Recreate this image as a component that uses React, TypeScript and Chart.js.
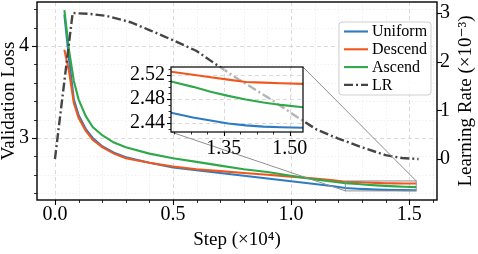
import React, { useEffect, useRef } from "react";
import { Chart, registerables } from "chart.js";
Chart.register(...registerables);

// ---- data (x in units of 1e4 steps) ----
const STEPS = [0.04, 0.06, 0.08, 0.10, 0.13, 0.16, 0.20, 0.25, 0.30, 0.40, 0.50, 0.60, 0.70, 0.80, 0.90, 1.00, 1.10, 1.18, 1.23, 1.28, 1.32, 1.36, 1.40, 1.44, 1.48, 1.53];
const UNIFORM = [4.34, 3.85, 3.42, 3.25, 3.10, 3.00, 2.91, 2.84, 2.79, 2.73, 2.68, 2.65, 2.62, 2.59, 2.56, 2.53, 2.50, 2.475, 2.457, 2.449, 2.444, 2.439, 2.436, 2.434, 2.433, 2.432];
const DESCEND = [3.96, 3.72, 3.38, 3.22, 3.08, 2.98, 2.90, 2.83, 2.78, 2.73, 2.69, 2.66, 2.64, 2.62, 2.60, 2.58, 2.56, 2.54, 2.525, 2.520, 2.516, 2.512, 2.508, 2.507, 2.506, 2.505];
const ASCEND = [4.39, 3.95, 3.62, 3.42, 3.24, 3.12, 3.03, 2.95, 2.90, 2.83, 2.78, 2.74, 2.70, 2.66, 2.63, 2.59, 2.55, 2.525, 2.509, 2.500, 2.492, 2.485, 2.479, 2.474, 2.470, 2.466];
const LR_STEPS = [0.0, 0.075, 0.15, 0.22, 0.32, 0.40, 0.50, 0.60, 0.68, 0.78, 0.92, 1.03, 1.11, 1.20, 1.30, 1.40, 1.47, 1.54];
const LR = [0.0, 3.0, 2.98, 2.94, 2.81, 2.65, 2.44, 2.22, 1.95, 1.63, 1.21, 0.85, 0.60, 0.42, 0.24, 0.08, 0.02, 0.0];

const X_TICKS = [0, 0.5, 1.0, 1.5];
const LOSS_TICKS = [3, 4];
const LR_TICKS = [0, 1, 2, 3];
const INSET_X_TICKS = [1.35, 1.5];
const INSET_Y_TICKS = [2.44, 2.48, 2.52];

const X_RANGE = [-0.076, 1.618];
const LOSS_RANGE = [2.326, 4.478];
const LR_RANGE = [-0.842, 3.226];
const INSET_X_RANGE = [1.23, 1.53];
const INSET_Y_RANGE = [2.425, 2.533];

const X_MINOR = 0.1;
const LOSS_MINOR = 0.2;
const INSET_X_MINOR = 0.0375;
const INSET_Y_MINOR = 0.01;

// ---- styles ----
const FAMILY = '"Liberation Serif", "DejaVu Serif", serif';
const COLORS: Record<string, string> = {
  Uniform: "#2f7bbf",
  Descend: "#f0571e",
  Ascend: "#2fa84a",
  LR: "#454545",
};
const LR_DASH = [9, 3, 2, 3];
const INSET_FRAME = { left: 171, top: 67, right: 303, bottom: 132 };
const INSET_CANVAS = { left: 110, top: 58, width: 200, height: 104 };

const toXY = (xs: number[], ys: number[]) => xs.map((x, i) => ({ x, y: ys[i] }));

function minorValues(min: number, max: number, step: number) {
  const out: number[] = [];
  const start = Math.ceil(min / step - 1e-9);
  const end = Math.floor(max / step + 1e-9);
  for (let k = start; k <= end; k++) out.push(k * step);
  return out;
}

function isMajor(v: number, majors: number[]) {
  return majors.some((m) => Math.abs(m - v) < 1e-6);
}

function lossDatasets() {
  return [
    { label: "Ascend", data: toXY(STEPS, ASCEND), yAxisID: "y", borderColor: COLORS.Ascend, borderWidth: 2.1, pointRadius: 0, tension: 0, order: 1 },
    { label: "Descend", data: toXY(STEPS, DESCEND), yAxisID: "y", borderColor: COLORS.Descend, borderWidth: 2.1, pointRadius: 0, tension: 0, order: 2 },
    { label: "Uniform", data: toXY(STEPS, UNIFORM), yAxisID: "y", borderColor: COLORS.Uniform, borderWidth: 2.1, pointRadius: 0, tension: 0, order: 3 },
  ];
}

const noPadV = (s: any) => { s.paddingTop = 0; s.paddingBottom = 0; };
const noPadH = (s: any) => { s.paddingLeft = 0; s.paddingRight = 0; };

function drawGrid(ctx: CanvasRenderingContext2D, area: any, xScale: any, yScale: any, xMinor: number, yMinor: number, xMajors: number[], yMajors: number[], minorToo: boolean) {
  const { left, right, top, bottom } = area;
  const xs = minorValues(xScale.min, xScale.max, xMinor);
  const ys = minorValues(yScale.min, yScale.max, yMinor);
  const line = (x1: number, y1: number, x2: number, y2: number, major: boolean) => {
    ctx.beginPath();
    ctx.strokeStyle = major ? "#d6d6d6" : "#e9e9e9";
    ctx.lineWidth = major ? 0.9 : 0.7;
    ctx.setLineDash(major ? [4, 3] : [1.5, 2]);
    ctx.moveTo(x1, y1);
    ctx.lineTo(x2, y2);
    ctx.stroke();
  };
  for (const v of xs) {
    const major = isMajor(v, xMajors);
    if (!major && !minorToo) continue;
    const px = Math.round(xScale.getPixelForValue(v)) + 0.5;
    line(px, top, px, bottom, major);
  }
  for (const v of ys) {
    const major = isMajor(v, yMajors);
    if (!major && !minorToo) continue;
    const py = Math.round(yScale.getPixelForValue(v)) + 0.5;
    line(left, py, right, py, major);
  }
  ctx.setLineDash([]);
}

function drawTicks(ctx: CanvasRenderingContext2D, scale: any, side: "left" | "right" | "bottom", pos: number, minorStep: number, majors: number[], majLen: number, minLen: number) {
  const vals = minorValues(scale.min, scale.max, minorStep);
  for (const v of vals) {
    const major = isMajor(v, majors);
    const len = major ? majLen : minLen;
    if (len <= 0) continue;
    const p = Math.round(scale.getPixelForValue(v)) + 0.5;
    ctx.beginPath();
    ctx.lineWidth = major ? 1.1 : 0.8;
    ctx.strokeStyle = "#000";
    if (side === "bottom") {
      ctx.moveTo(p, pos);
      ctx.lineTo(p, pos + len);
    } else if (side === "left") {
      ctx.moveTo(pos, p);
      ctx.lineTo(pos - len, p);
    } else {
      ctx.moveTo(pos, p);
      ctx.lineTo(pos + len, p);
    }
    ctx.stroke();
  }
}

const mainDecor = {
  id: "mainDecor",
  beforeDatasetsDraw(chart: any) {
    const { ctx, chartArea, scales } = chart;
    ctx.save();
    drawGrid(ctx, chartArea, scales.x, scales.y, X_MINOR, LOSS_MINOR, X_TICKS, LOSS_TICKS, true);
    ctx.restore();
  },
  afterDatasetsDraw(chart: any) {
    const { ctx, chartArea, scales } = chart;
    const { left, right, top, bottom } = chartArea;
    ctx.save();
    const rx1 = scales.x.getPixelForValue(INSET_X_RANGE[0]);
    const rx2 = scales.x.getPixelForValue(INSET_X_RANGE[1]);
    const ry1 = scales.y.getPixelForValue(INSET_Y_RANGE[1]);
    const ry2 = scales.y.getPixelForValue(INSET_Y_RANGE[0]);
    ctx.strokeStyle = "#8e8e8e";
    ctx.lineWidth = 1;
    ctx.strokeRect(rx1, ry1, rx2 - rx1, ry2 - ry1);
    ctx.beginPath();
    ctx.moveTo(INSET_FRAME.right, INSET_FRAME.top);
    ctx.lineTo(rx2, ry1);
    ctx.moveTo(INSET_FRAME.left, INSET_FRAME.bottom);
    ctx.lineTo(rx1, ry2);
    ctx.stroke();
    ctx.strokeStyle = "#000";
    ctx.lineWidth = 1.4;
    ctx.strokeRect(left, top, right - left, bottom - top);
    drawTicks(ctx, scales.x, "bottom", bottom, X_MINOR, X_TICKS, 5, 3);
    drawTicks(ctx, scales.y, "left", left, LOSS_MINOR, LOSS_TICKS, 5, 3);
    drawTicks(ctx, scales.yR, "right", right, 1, LR_TICKS, 5, 0);
    ctx.restore();
  },
  afterDraw(chart: any) {
    const { ctx } = chart;
    ctx.save();
    const bx = 339, by = 22, bw = 92, bh = 73, r = 3;
    ctx.beginPath();
    ctx.moveTo(bx + r, by);
    ctx.arcTo(bx + bw, by, bx + bw, by + bh, r);
    ctx.arcTo(bx + bw, by + bh, bx, by + bh, r);
    ctx.arcTo(bx, by + bh, bx, by, r);
    ctx.arcTo(bx, by, bx + bw, by, r);
    ctx.closePath();
    ctx.fillStyle = "rgba(255,255,255,0.85)";
    ctx.fill();
    ctx.strokeStyle = "#cfcfcf";
    ctx.lineWidth = 1;
    ctx.stroke();
    const entries = ["Uniform", "Descend", "Ascend", "LR"];
    ctx.font = `16px ${FAMILY}`;
    ctx.textBaseline = "middle";
    ctx.textAlign = "left";
    entries.forEach((name, i) => {
      const y = by + 9.5 + i * 17.8;
      ctx.beginPath();
      ctx.strokeStyle = COLORS[name];
      ctx.lineWidth = name === "LR" ? 2.4 : 2.1;
      ctx.setLineDash(name === "LR" ? LR_DASH : []);
      ctx.moveTo(344, y);
      ctx.lineTo(368, y);
      ctx.stroke();
      ctx.setLineDash([]);
      ctx.fillStyle = "#000";
      ctx.fillText(name, 372, y + 0.5);
    });
    ctx.translate(466, 101);
    ctx.rotate(-Math.PI / 2);
    ctx.font = `19px ${FAMILY}`;
    ctx.textAlign = "center";
    ctx.textBaseline = "middle";
    ctx.fillStyle = "#000";
    ctx.fillText("Learning Rate (×10⁻³)", 0, 0);
    ctx.restore();
  },
};

const insetDecor = {
  id: "insetDecor",
  beforeDatasetsDraw(chart: any) {
    const { ctx, chartArea, scales } = chart;
    const { left, right, top, bottom } = chartArea;
    ctx.save();
    ctx.fillStyle = "rgba(255,255,255,0.6)";
    ctx.fillRect(left, top, right - left, bottom - top);
    drawGrid(ctx, chartArea, scales.x, scales.y, INSET_X_MINOR, INSET_Y_MINOR, INSET_X_TICKS, INSET_Y_TICKS, false);
    ctx.restore();
  },
  afterDatasetsDraw(chart: any) {
    const { ctx, chartArea, scales } = chart;
    const { left, right, top, bottom } = chartArea;
    ctx.save();
    ctx.strokeStyle = "#000";
    ctx.lineWidth = 1.2;
    ctx.strokeRect(left, top, right - left, bottom - top);
    drawTicks(ctx, scales.x, "bottom", bottom, INSET_X_MINOR, INSET_X_TICKS, 4, 2.5);
    drawTicks(ctx, scales.y, "left", left, INSET_Y_MINOR, INSET_Y_TICKS, 4, 2.5);
    ctx.restore();
  },
};

export default function App() {
  const mainRef = useRef<HTMLCanvasElement | null>(null);
  const insetRef = useRef<HTMLCanvasElement | null>(null);

  useEffect(() => {
    const tickFont = { family: FAMILY, size: 20 };
    const main = new Chart(mainRef.current as HTMLCanvasElement, {
      type: "line",
      data: {
        datasets: [
          { label: "LR", data: toXY(LR_STEPS, LR), yAxisID: "yR", borderColor: COLORS.LR, borderWidth: 2.4, borderDash: LR_DASH, pointRadius: 0, tension: 0, order: 0 },
          ...lossDatasets(),
        ] as any,
      },
      options: {
        animation: false,
        responsive: false,
        maintainAspectRatio: false,
        layout: { padding: { top: 2, left: 0, right: 0, bottom: 0 } },
        plugins: { legend: { display: false }, tooltip: { enabled: false } },
        scales: {
          x: {
            type: "linear",
            min: X_RANGE[0],
            max: X_RANGE[1],
            afterBuildTicks: (s: any) => { s.ticks = X_TICKS.map((v) => ({ value: v })); },
            afterFit: (s: any) => { s.height = 54; noPadH(s); },
            grid: { display: false, drawTicks: false },
            border: { display: false },
            ticks: { font: tickFont, color: "#000", padding: 3, autoSkip: false, maxRotation: 0, callback: (v: any) => Number(v).toFixed(1) },
            title: { display: true, text: "Step (×10⁴)", color: "#000", font: { family: FAMILY, size: 19 }, padding: { top: 0, bottom: 2.6 } },
          },
          y: {
            type: "linear",
            position: "left",
            min: LOSS_RANGE[0],
            max: LOSS_RANGE[1],
            afterBuildTicks: (s: any) => { s.ticks = LOSS_TICKS.map((v) => ({ value: v })); },
            afterFit: (s: any) => { s.width = 37; noPadV(s); },
            grid: { display: false, drawTicks: false },
            border: { display: false },
            ticks: { font: tickFont, color: "#000", padding: 8, autoSkip: false, callback: (v: any) => String(v) },
            title: { display: true, text: "Validation Loss", color: "#000", font: { family: FAMILY, size: 19, lineHeight: 1 }, padding: { top: 0, bottom: 0 } },
          },
          yR: {
            type: "linear",
            position: "right",
            min: LR_RANGE[0],
            max: LR_RANGE[1],
            afterBuildTicks: (s: any) => { s.ticks = LR_TICKS.map((v) => ({ value: v })); },
            afterFit: (s: any) => { s.width = 41; noPadV(s); },
            grid: { display: false, drawTicks: false },
            border: { display: false },
            ticks: { font: tickFont, color: "#000", padding: 3, autoSkip: false, callback: (v: any) => String(v) },
          },
        },
      } as any,
      plugins: [mainDecor],
    });

    const insetW = INSET_CANVAS.width;
    const insetH = INSET_CANVAS.height;
    const fLeft = INSET_FRAME.left - INSET_CANVAS.left;
    const fTop = INSET_FRAME.top - INSET_CANVAS.top;
    const fRight = INSET_FRAME.right - INSET_CANVAS.left;
    const fBottom = INSET_FRAME.bottom - INSET_CANVAS.top;
    const inset = new Chart(insetRef.current as HTMLCanvasElement, {
      type: "line",
      data: { datasets: lossDatasets() as any },
      options: {
        animation: false,
        responsive: false,
        maintainAspectRatio: false,
        layout: { padding: { top: fTop, left: 0, right: insetW - fRight, bottom: 0 } },
        plugins: { legend: { display: false }, tooltip: { enabled: false } },
        scales: {
          x: {
            type: "linear",
            min: INSET_X_RANGE[0],
            max: INSET_X_RANGE[1],
            afterBuildTicks: (s: any) => { s.ticks = INSET_X_TICKS.map((v) => ({ value: v })); },
            afterFit: (s: any) => { s.height = insetH - fBottom; noPadH(s); },
            grid: { display: false, drawTicks: false },
            border: { display: false },
            ticks: { font: tickFont, color: "#000", padding: 5, autoSkip: false, maxRotation: 0, callback: (v: any) => Number(v).toFixed(2) },
          },
          y: {
            type: "linear",
            position: "left",
            min: INSET_Y_RANGE[0],
            max: INSET_Y_RANGE[1],
            afterBuildTicks: (s: any) => { s.ticks = INSET_Y_TICKS.map((v) => ({ value: v })); },
            afterFit: (s: any) => { s.width = fLeft; noPadV(s); },
            grid: { display: false, drawTicks: false },
            border: { display: false },
            ticks: { font: tickFont, color: "#000", padding: 6, autoSkip: false, callback: (v: any) => Number(v).toFixed(2) },
          },
        },
      } as any,
      plugins: [insetDecor],
    });

    return () => {
      main.destroy();
      inset.destroy();
    };
  }, []);

  return (
    <div style={{ position: "fixed", left: 0, top: 0, width: 478, height: 254, background: "#fff" }}>
      <canvas ref={mainRef} width={478} height={254} style={{ position: "absolute", left: 0, top: 0, width: 478, height: 254 }} />
      <canvas
        ref={insetRef}
        width={INSET_CANVAS.width}
        height={INSET_CANVAS.height}
        style={{ position: "absolute", left: INSET_CANVAS.left, top: INSET_CANVAS.top, width: INSET_CANVAS.width, height: INSET_CANVAS.height }}
      />
    </div>
  );
}
